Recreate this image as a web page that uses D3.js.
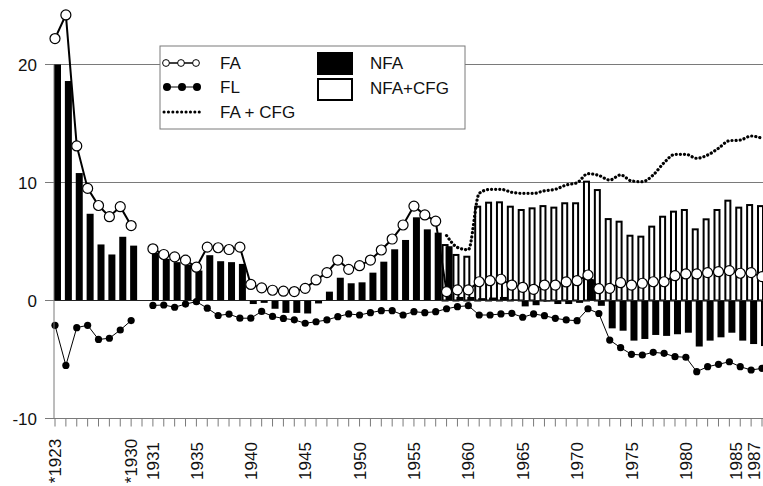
<!DOCTYPE html>
<html>
<head>
<meta charset="utf-8">
<script src="https://cdn.jsdelivr.net/npm/d3@7"></script>
<style>
  body { margin: 0; background: #fff; }
  text { font-family: "Liberation Sans", Arial, sans-serif; fill: #111; }
</style>
</head>
<body>
<script>
window.document.addEventListener('DOMContentLoaded', init, false);

var svg;
var width = 763;
var height = 486;

// categories: 1923-1930, an empty slot, then 1931-1987
var years = ['1923', '1924', '1925', '1926', '1927', '1928', '1929', '1930', 'gap',
    '1931', '1932', '1933', '1934', '1935', '1936', '1937', '1938', '1939', '1940',
    '1941', '1942', '1943', '1944', '1945', '1946', '1947', '1948', '1949', '1950',
    '1951', '1952', '1953', '1954', '1955', '1956', '1957', '1958', '1959', '1960',
    '1961', '1962', '1963', '1964', '1965', '1966', '1967', '1968', '1969', '1970',
    '1971', '1972', '1973', '1974', '1975', '1976', '1977', '1978', '1979', '1980',
    '1981', '1982', '1983', '1984', '1985', '1986', '1987'];

var tickLabels = {'1923': '*1923', '1930': '*1930', '1931': '1931', '1935': '1935',
    '1940': '1940', '1945': '1945', '1950': '1950', '1955': '1955', '1960': '1960',
    '1965': '1965', '1970': '1970', '1975': '1975', '1980': '1980', '1985': '1985',
    '1987': '1987'};

var yTicks = [-10, 0, 10, 20];

var fa = [22.2, 24.2, 13.1, 9.5, 8.05, 7.1, 7.95, 6.35, null,
    4.38, 3.9, 3.7, 3.42, 2.82, 4.52, 4.47, 4.32, 4.52, 1.36, 1.07, 0.87, 0.79, 0.76,
    1.03, 1.74, 2.36, 3.43, 2.64, 2.95, 3.43, 4.28, 5.21, 6.4, 8.0, 7.25, 6.72,
    0.75, 0.9, 0.9, 1.59, 1.68, 1.8, 1.31, 1.12, 0.95, 1.31, 1.31, 1.57, 1.68, 2.16, 1.0,
    1.03, 1.51, 1.31, 1.46, 1.59, 1.59, 2.1, 2.25, 2.25, 2.36, 2.44, 2.53, 2.31, 2.36, 2.02];

var fl = [-2.1, -5.5, -2.3, -2.1, -3.3, -3.2, -2.5, -1.7, null,
    -0.42, -0.38, -0.57, -0.3, -0.1, -0.65, -1.27, -1.15, -1.5, -1.5, -0.93, -1.35, -1.52, -1.64,
    -1.93, -1.8, -1.65, -1.37, -1.14, -1.23, -1.03, -0.86, -0.86, -1.23, -0.95, -1.03, -0.95,
    -0.7, -0.52, -0.44, -1.23, -1.23, -1.14, -1.09, -1.42, -1.14, -1.29, -1.51, -1.65, -1.71, -0.7, -1.1,
    -3.35, -4.0, -4.56, -4.62, -4.39, -4.48, -4.76, -4.81, -6.03, -5.61, -5.41, -5.19, -5.61, -5.89, -5.75];

var nfa = [20.0, 18.6, 10.8, 7.35, 4.75, 3.9, 5.4, 4.65, null,
    4.04, 3.53, 3.25, 3.05, 2.54, 3.84, 3.33, 3.25, 3.1, -0.3, -0.2, -0.7, -1.05, -1.05,
    -1.1, -0.25, 0.75, 1.93, 1.46, 1.54, 2.36, 3.29, 4.34, 5.13, 7.05, 6.03, 5.75,
    4.6, 0.3, 0.3, 0.2, 0.25, 0.3, 0.1, -0.5, -0.4, -0.1, -0.3, -0.3, -0.2, 1.8, -0.45,
    -2.36, -2.56, -3.4, -3.26, -2.92, -3.0, -2.86, -2.73, -3.9, -3.4, -3.12, -2.73, -3.4, -3.69, -3.86];

var nfaCfg = [null, null, null, null, null, null, null, null, null,
    null, null, null, null, null, null, null, null, null, null, null, null, null, null,
    null, null, null, null, null, null, null, null, null, null, null, null, null,
    4.7, 3.86, 3.71, 7.95, 8.29, 8.32, 7.95, 7.67, 7.81, 8.0, 7.87, 8.24, 8.24, 10.07, 9.36,
    6.9, 6.68, 5.49, 5.41, 6.26, 7.1, 7.53, 7.67, 6.03, 6.88, 7.67, 8.46, 7.87, 8.09, 8.0];

var faCfg = [null, null, null, null, null, null, null, null, null,
    null, null, null, null, null, null, null, null, null, null, null, null, null, null,
    null, null, null, null, null, null, null, null, null, null, null, null, null,
    5.5, 4.5, 4.3, 9.08, 9.42, 9.42, 9.17, 9.08, 9.08, 9.3, 9.42, 9.79, 9.98, 10.75, 10.6,
    10.21, 10.64, 10.13, 10.07, 10.64, 11.68, 12.39, 12.39, 12.05, 12.33, 12.9, 13.54, 13.6, 13.94, 13.75];

var x, y;
var left = 54;

function init() {
    svg = createCanvas();
    x = d3.scalePoint().domain(years).range([55, 762]);
    y = d3.scaleLinear().domain([-10, 20]).range([418.5, 64.5]);

    drawGrid();
    drawBars();
    drawLines();
    drawAxes();
    drawLegend();
}

function createCanvas() {
    return d3.select('body')
        .append('svg')
        .attr('width', width)
        .attr('height', height);
}

function drawGrid() {
    svg.selectAll('.grid')
        .data([10, 20])
        .enter().append('line')
        .attr('x1', left).attr('x2', width)
        .attr('y1', function(d) { return y(d); })
        .attr('y2', function(d) { return y(d); })
        .attr('stroke', '#7a7a7a')
        .attr('stroke-width', 1);
}

function drawBars() {
    var white = years.map(function(k, i) { return {k: k, v: nfaCfg[i]}; })
        .filter(function(d) { return d.v != null; });
    svg.selectAll('.nfacfg')
        .data(white)
        .enter().append('rect')
        .attr('x', function(d) { return x(d.k) - 4; })
        .attr('width', 5)
        .attr('y', function(d) { return Math.min(y(d.v), y(0)); })
        .attr('height', function(d) { return Math.abs(y(d.v) - y(0)); })
        .attr('fill', '#fff')
        .attr('stroke', '#000')
        .attr('stroke-width', 2);

    var black = years.map(function(k, i) { return {k: k, v: nfa[i]}; })
        .filter(function(d) { return d.v != null; });
    svg.selectAll('.nfa')
        .data(black)
        .enter().append('rect')
        .attr('x', function(d) { return x(d.k) - 1; })
        .attr('width', 7)
        .attr('y', function(d) { return Math.min(y(d.v), y(0)); })
        .attr('height', function(d) { return Math.abs(y(d.v) - y(0)); })
        .attr('fill', '#000');

    // zero line
    svg.append('line')
        .attr('x1', left).attr('x2', width)
        .attr('y1', y(0)).attr('y2', y(0))
        .attr('stroke', '#222')
        .attr('stroke-width', 1);
}

function seriesLine(values, curve) {
    return d3.line()
        .defined(function(d, i) { return values[i] != null; })
        .x(function(d) { return x(d); })
        .y(function(d, i) { return y(values[i]); })
        .curve(curve || d3.curveLinear)(years);
}

function drawLines() {
    // FA + CFG, dotted
    svg.append('path')
        .attr('d', seriesLine(faCfg, d3.curveMonotoneX))
        .attr('fill', 'none')
        .attr('stroke', '#000')
        .attr('stroke-width', 3.2)
        .attr('stroke-linecap', 'round')
        .attr('stroke-dasharray', '0.1,4');

    // FL
    svg.append('path')
        .attr('d', seriesLine(fl))
        .attr('fill', 'none')
        .attr('stroke', '#000')
        .attr('stroke-width', 1);
    svg.selectAll('.fl')
        .data(years.filter(function(k, i) { return fl[i] != null; }))
        .enter().append('circle')
        .attr('cx', function(d) { return x(d); })
        .attr('cy', function(d) { return y(fl[years.indexOf(d)]); })
        .attr('r', 3.6)
        .attr('fill', '#000');

    // FA
    svg.append('path')
        .attr('d', seriesLine(fa))
        .attr('fill', 'none')
        .attr('stroke', '#000')
        .attr('stroke-width', 2);
    svg.selectAll('.fa')
        .data(years.filter(function(k, i) { return fa[i] != null; }))
        .enter().append('circle')
        .attr('cx', function(d) { return x(d); })
        .attr('cy', function(d) { return y(fa[years.indexOf(d)]); })
        .attr('r', 5)
        .attr('fill', '#fff')
        .attr('stroke', '#000')
        .attr('stroke-width', 1.2);
}

function drawAxes() {
    // y axis
    svg.append('line')
        .attr('x1', left).attr('x2', left)
        .attr('y1', y(20)).attr('y2', y(-10))
        .attr('stroke', '#7a7a7a');
    svg.selectAll('.ytick')
        .data(yTicks)
        .enter().append('line')
        .attr('x1', left - 9).attr('x2', left)
        .attr('y1', function(d) { return y(d); })
        .attr('y2', function(d) { return y(d); })
        .attr('stroke', '#7a7a7a');
    svg.selectAll('.ylab')
        .data(yTicks)
        .enter().append('text')
        .attr('x', 37)
        .attr('y', function(d) { return y(d); })
        .attr('dy', '0.36em')
        .attr('text-anchor', 'end')
        .style('font-size', '17px')
        .text(function(d) { return d; });

    // x axis along -10
    svg.append('line')
        .attr('x1', left).attr('x2', width)
        .attr('y1', y(-10)).attr('y2', y(-10))
        .attr('stroke', '#7a7a7a');
    svg.selectAll('.xtick')
        .data(years)
        .enter().append('line')
        .attr('x1', function(d) { return x(d); })
        .attr('x2', function(d) { return x(d); })
        .attr('y1', y(-10)).attr('y2', y(-10) + 8)
        .attr('stroke', '#7a7a7a');
    // the last labels are pulled in so they stay inside the picture
    svg.selectAll('.xlab')
        .data(years.filter(function(d) { return tickLabels[d]; }))
        .enter().append('text')
        .attr('transform', function(d) {
            var lx = Math.min(x(d), width - 9);
            if (d === '1985') lx -= 4;
            return 'translate(' + lx + ',461) rotate(-90)';
        })
        .attr('dy', '0.36em')
        .attr('text-anchor', 'middle')
        .style('font-size', '17px')
        .text(function(d) { return tickLabels[d]; });
}

function drawLegend() {
    var g = svg.append('g');
    g.append('rect')
        .attr('x', 160).attr('y', 46)
        .attr('width', 305).attr('height', 83)
        .attr('fill', '#fff')
        .attr('stroke', '#7a7a7a');

    // FA
    g.append('line').attr('x1', 163).attr('x2', 199).attr('y1', 63).attr('y2', 63)
        .attr('stroke', '#000').attr('stroke-width', 1.5);
    g.selectAll('.lfa').data([166, 181, 196]).enter().append('circle')
        .attr('cx', function(d) { return d; }).attr('cy', 63).attr('r', 3.4)
        .attr('fill', '#fff').attr('stroke', '#000').attr('stroke-width', 1);
    // FL
    g.append('line').attr('x1', 163).attr('x2', 199).attr('y1', 87).attr('y2', 87)
        .attr('stroke', '#000').attr('stroke-width', 1);
    g.selectAll('.lfl').data([167, 182, 197]).enter().append('circle')
        .attr('cx', function(d) { return d; }).attr('cy', 87).attr('r', 4)
        .attr('fill', '#000');
    // FA + CFG
    g.append('line').attr('x1', 164).attr('x2', 200).attr('y1', 112).attr('y2', 112)
        .attr('stroke', '#000').attr('stroke-width', 3)
        .attr('stroke-linecap', 'round').attr('stroke-dasharray', '0.1,4.3');
    // NFA
    g.append('rect').attr('x', 317).attr('y', 52).attr('width', 36).attr('height', 23)
        .attr('fill', '#000');
    // NFA+CFG
    g.append('rect').attr('x', 318).attr('y', 79).attr('width', 34).attr('height', 21)
        .attr('fill', '#fff').attr('stroke', '#000').attr('stroke-width', 2);

    var labels = [
        {t: 'FA', x: 220, y: 69},
        {t: 'FL', x: 220, y: 93},
        {t: 'FA + CFG', x: 220, y: 118},
        {t: 'NFA', x: 370, y: 69},
        {t: 'NFA+CFG', x: 370, y: 94}
    ];
    g.selectAll('.ltext').data(labels).enter().append('text')
        .attr('x', function(d) { return d.x; })
        .attr('y', function(d) { return d.y; })
        .style('font-size', '17px')
        .text(function(d) { return d.t; });
}
</script>
</body>
</html>
